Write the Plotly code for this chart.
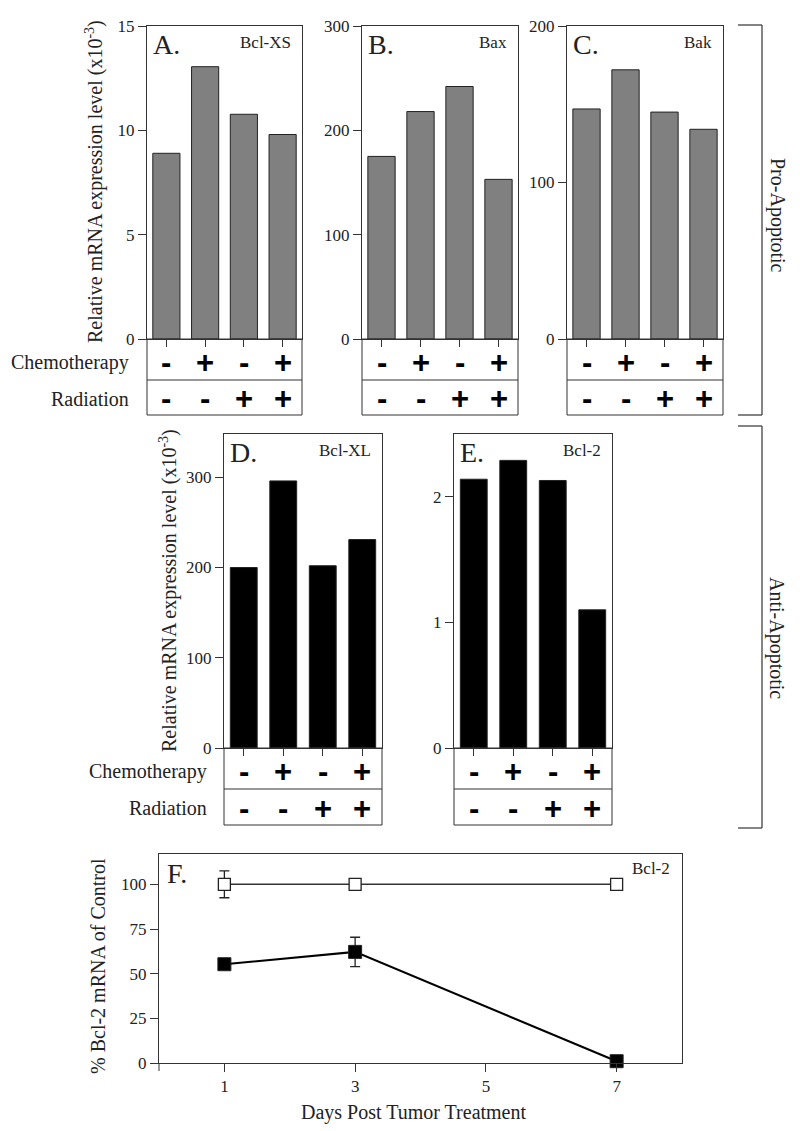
import plotly.graph_objects as go

W, H = 800, 1131
PAGE_OFFSET = 8  # the browser page margin shifts the figure by this many pixels

# ---------------- data ----------------
groups = ["Control", "Chemotherapy", "Radiation", "Chemo+Radiation"]
chemotherapy = ["-", "+", "-", "+"]
radiation = ["-", "-", "+", "+"]

bcl_xs = [8.9, 13.05, 10.77, 9.8]
bax = [175, 218, 242, 153]
bak = [147, 172, 145, 134]
bcl_xl = [200, 296, 202, 231]
bcl_2 = [2.14, 2.29, 2.13, 1.10]

days = [1, 3, 7]
control_pct = [100, 100, 100]
control_err = [7.5, 0, 0]
treated_pct = [55.3, 62.2, 1.0]
treated_err = [0, 8.2, 0]

# ---------------- style ----------------
SERIF = "Liberation Serif, Times New Roman, serif"
SANS = "Liberation Sans, Arial, sans-serif"
INK = "#222222"
LINE = "#333333"
GRAY = "#808080"
TICK_SIZE = 17


def px(x):
    return (x - PAGE_OFFSET) / W


def py(y):
    return 1 - (y - PAGE_OFFSET) / H


panels = [
    dict(letter="A.", gene="Bcl-XS", vals=bcl_xs, color=GRAY, left=147, right=302,
         top=26, zero=339, sep=380, bottom=415, yrange=[0, 15], tickvals=[0, 5, 10, 15], bw=0.7),
    dict(letter="B.", gene="Bax", vals=bax, color=GRAY, left=362, right=518,
         top=26, zero=339, sep=380, bottom=415, yrange=[0, 300], tickvals=[0, 100, 200, 300], bw=0.7),
    dict(letter="C.", gene="Bak", vals=bak, color=GRAY, left=567, right=723,
         top=26, zero=339, sep=380, bottom=415, yrange=[0, 200], tickvals=[0, 100, 200], bw=0.7),
    dict(letter="D.", gene="Bcl-XL", vals=bcl_xl, color="#000000", left=224, right=382,
         top=434, zero=748, sep=789, bottom=825, yrange=[0, 348], tickvals=[0, 100, 200, 300], bw=0.68),
    dict(letter="E.", gene="Bcl-2", vals=bcl_2, color="#000000", left=454, right=612,
         top=434, zero=748, sep=789, bottom=825, yrange=[0, 2.5], tickvals=[0, 1, 2], bw=0.68),
]

fig = go.Figure()
annotations = []
shapes = []
layout = {}

for i, p in enumerate(panels, start=1):
    xa, ya = f"x{i}", f"y{i}"
    fig.add_trace(go.Bar(
        x=groups, y=p["vals"], xaxis=xa, yaxis=ya, width=p["bw"],
        marker=dict(color=p["color"], line=dict(color=INK, width=1)),
        showlegend=False, hoverinfo="x+y",
    ))
    layout[f"xaxis{i}"] = dict(
        domain=[px(p["left"]), px(p["right"])], anchor=ya, type="category",
        range=[-0.5, 3.5], showline=True, mirror=True, linecolor=LINE, linewidth=1,
        ticks="outside", ticklen=7, tickcolor=LINE, tickwidth=1,
        showticklabels=False, showgrid=False, zeroline=False, fixedrange=True,
        automargin=False,
    )
    layout[f"yaxis{i}"] = dict(
        domain=[py(p["zero"]), py(p["top"])], anchor=xa, range=p["yrange"],
        tickvals=p["tickvals"], showline=True, mirror=True, linecolor=LINE, linewidth=1,
        ticks="outside", ticklen=8, tickcolor=LINE, tickwidth=1,
        tickfont=dict(family=SERIF, size=TICK_SIZE, color=INK),
        showgrid=False, zeroline=False, fixedrange=True, automargin=False,
    )
    # treatment table below the bars
    shapes.append(dict(type="rect", xref="paper", yref="paper",
                       x0=px(p["left"]), x1=px(p["right"]), y0=py(p["bottom"]), y1=py(p["zero"]),
                       line=dict(color=LINE, width=1)))
    shapes.append(dict(type="line", xref="paper", yref="paper",
                       x0=px(p["left"]), x1=px(p["right"]), y0=py(p["sep"]), y1=py(p["sep"]),
                       line=dict(color=LINE, width=1)))
    chem_y = (p["zero"] + p["sep"]) / 2 + 3
    rad_y = (p["sep"] + p["bottom"]) / 2 + 1
    for g, c, r in zip(groups, chemotherapy, radiation):
        for sign, yy in ((c, chem_y), (r, rad_y)):
            annotations.append(dict(
                xref=xa, yref="paper", x=g, y=py(yy), text=f"<b>{sign}</b>",
                showarrow=False, xanchor="center", yanchor="middle",
                font=dict(family=SANS, size=31, color="#000000"),
            ))
    # panel letter and gene label
    annotations.append(dict(xref="paper", yref="paper", x=px(p["left"] + 4), y=py(p["top"] + 1),
                            text=p["letter"], showarrow=False, xanchor="left", yanchor="top",
                            font=dict(family=SERIF, size=28, color=INK)))
    annotations.append(dict(xref="paper", yref="paper", x=px(p["right"] - 9), y=py(p["top"] + 5),
                            text=p["gene"], showarrow=False, xanchor="right", yanchor="top",
                            font=dict(family=SERIF, size=17, color=INK)))

# row labels for treatment table
for left_lab, p in ((131, panels[0]), (209, panels[3])):
    chem_y = (p["zero"] + p["sep"]) / 2 + 3
    rad_y = (p["sep"] + p["bottom"]) / 2 + 1
    annotations.append(dict(xref="paper", yref="paper", x=px(left_lab), y=py(chem_y),
                            text="Chemotherapy", showarrow=False, xanchor="right", yanchor="middle",
                            font=dict(family=SERIF, size=20, color=INK)))
    annotations.append(dict(xref="paper", yref="paper", x=px(left_lab), y=py(rad_y),
                            text="Radiation", showarrow=False, xanchor="right", yanchor="middle",
                            font=dict(family=SERIF, size=20, color=INK)))

# y-axis titles for bar panels
for xc, yc in ((94, 182), (168, 591)):
    annotations.append(dict(xref="paper", yref="paper", x=px(xc), y=py(yc),
                            text="Relative mRNA expression level (x10<sup>-3</sup>)",
                            showarrow=False, textangle=-90, xanchor="center", yanchor="middle",
                            font=dict(family=SERIF, size=20, color=INK)))

# brackets
for top, bottom, label, yc in ((25, 415, "Pro-Apoptotic", 215), (426, 828, "Anti-Apoptotic", 638)):
    for (x0, y0, x1, y1) in ((738, top, 762, top), (762, top, 762, bottom), (738, bottom, 762, bottom)):
        shapes.append(dict(type="line", xref="paper", yref="paper",
                           x0=px(x0), y0=py(y0), x1=px(x1), y1=py(y1),
                           line=dict(color=LINE, width=1.2)))
    annotations.append(dict(xref="paper", yref="paper", x=px(777), y=py(yc), text=label,
                            showarrow=False, textangle=90, xanchor="center", yanchor="middle",
                            font=dict(family=SERIF, size=20, color=INK)))

# ---------------- panel F ----------------
fi = len(panels) + 1
fx, fy = f"x{fi}", f"y{fi}"
fig.add_trace(go.Scatter(
    x=days, y=control_pct, xaxis=fx, yaxis=fy, mode="lines+markers", showlegend=False,
    line=dict(color=LINE, width=1.5),
    marker=dict(symbol="square", size=12, color="#ffffff", line=dict(color=INK, width=1.3)),
    error_y=dict(type="data", array=control_err, color=INK, thickness=1.3, width=5),
    cliponaxis=False,
))
fig.add_trace(go.Scatter(
    x=days, y=treated_pct, xaxis=fx, yaxis=fy, mode="lines+markers", showlegend=False,
    line=dict(color="#000000", width=2),
    marker=dict(symbol="square", size=13, color="#000000", line=dict(color=INK, width=1)),
    error_y=dict(type="data", array=treated_err, color=INK, thickness=1.3, width=5),
    cliponaxis=False,
))
layout[f"xaxis{fi}"] = dict(
    domain=[px(159), px(682)], anchor=fy, range=[0, 8],
    tickvals=[1, 3, 5, 7],
    showline=True, mirror=True, linecolor=LINE, linewidth=1,
    ticks="outside", ticklen=8, tickcolor=LINE, tickwidth=1,
    tickfont=dict(family=SERIF, size=TICK_SIZE, color=INK),
    showgrid=False, zeroline=False, fixedrange=True, automargin=False,
)
layout[f"yaxis{fi}"] = dict(
    domain=[py(1063), py(854)], anchor=fx, range=[0, 117],
    tickvals=[0, 25, 50, 75, 100],
    showline=True, mirror=True, linecolor=LINE, linewidth=1,
    ticks="outside", ticklen=8, tickcolor=LINE, tickwidth=1,
    tickfont=dict(family=SERIF, size=TICK_SIZE, color=INK),
    showgrid=False, zeroline=False, fixedrange=True, automargin=False,
)
# corner tick below the F axes origin
shapes.append(dict(type="line", xref="paper", yref="paper",
                   x0=px(159), x1=px(159), y0=py(1063), y1=py(1071),
                   line=dict(color=LINE, width=1)))
annotations.append(dict(xref="paper", yref="paper", x=px(165), y=py(856), text="F.",
                        showarrow=False, xanchor="left", yanchor="top",
                        font=dict(family=SERIF, size=28, color=INK)))
annotations.append(dict(xref="paper", yref="paper", x=px(672), y=py(857), text="Bcl-2",
                        showarrow=False, xanchor="right", yanchor="top",
                        font=dict(family=SERIF, size=17, color=INK)))
annotations.append(dict(xref="paper", yref="paper", x=px(98), y=py(966),
                        text="% Bcl-2 mRNA of Control", showarrow=False, textangle=-90,
                        xanchor="center", yanchor="middle",
                        font=dict(family=SERIF, size=20, color=INK)))
annotations.append(dict(xref="paper", yref="paper", x=px(413), y=py(1112),
                        text="Days Post Tumor Treatment", showarrow=False,
                        xanchor="center", yanchor="middle",
                        font=dict(family=SERIF, size=20, color=INK)))

fig.update_layout(
    template="none",
    width=W, height=H, margin=dict(l=0, r=0, t=0, b=0, pad=0, autoexpand=False),
    paper_bgcolor="#ffffff", plot_bgcolor="#ffffff",
    annotations=annotations, shapes=shapes, bargap=0.3,
    **layout,
)

fig.write_html("out.html")
